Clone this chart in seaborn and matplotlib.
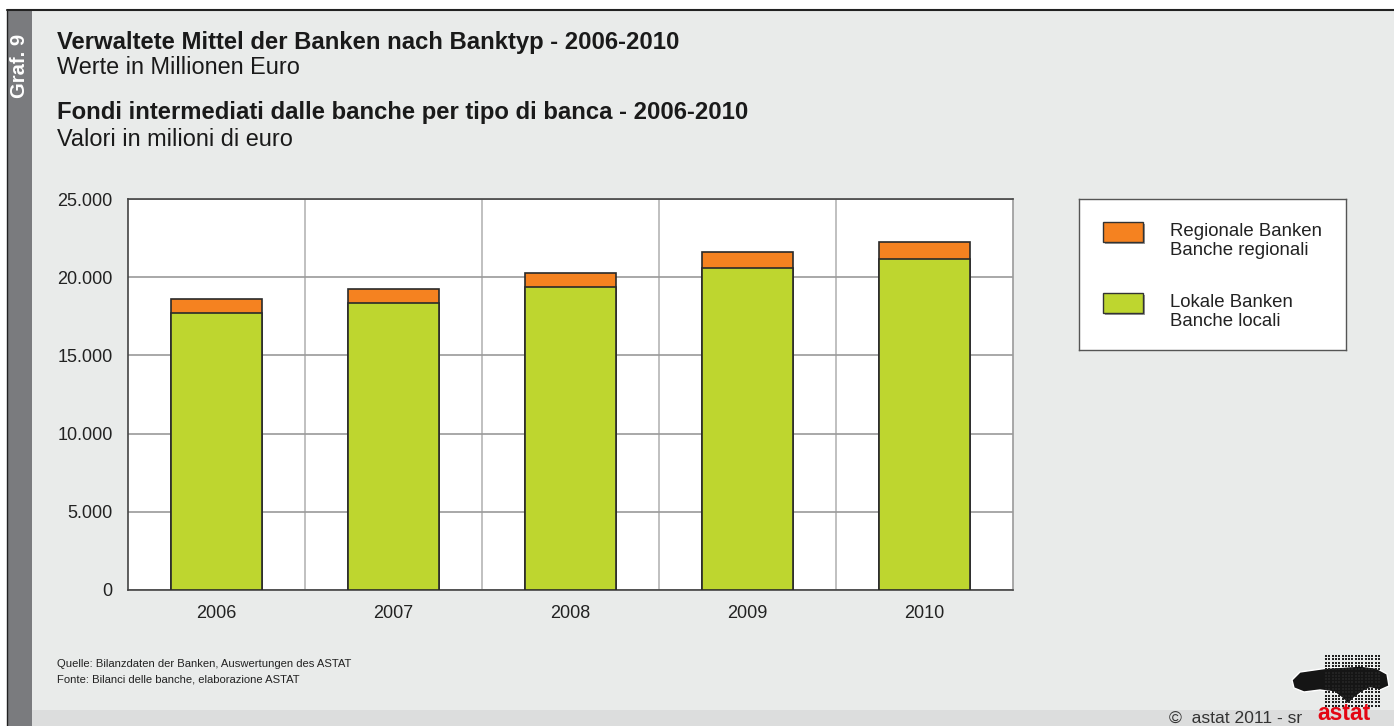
import numpy as np
import pandas as pd
import seaborn as sns
import matplotlib.pyplot as plt
from matplotlib.patches import Rectangle, Polygon
from matplotlib.ticker import FuncFormatter, FixedLocator

# values (million euro)
years = ["2006", "2007", "2008", "2009", "2010"]
lokale = [17710, 18350, 19350, 20570, 21150]
regionale = [880, 900, 920, 1020, 1080]
series_labels = ["Regionale Banken\nBanche regionali", "Lokale Banken\nBanche locali"]
y_ticks = [0, 5000, 10000, 15000, 20000, 25000]

ORANGE = "#F58220"
GREEN = "#BED62F"
BG = "#E9EBEA"

sns.set_theme(style="white")
plt.rcParams['font.family'] = ['Liberation Sans', 'DejaVu Sans']

df = pd.DataFrame({"Jahr": years, "Lokale": lokale, "Regionale": regionale})
df["Gesamt"] = df["Lokale"] + df["Regionale"]

W, H = 1394, 726
fig = plt.figure(figsize=(W / 100, H / 100), dpi=100)
fig.patch.set_facecolor("white")


def fx(px):
    return px / W


def fy(py):
    return 1 - py / H


# background panels
fig.patches.append(Rectangle((fx(7), 0), fx(W - 7), fy(10), transform=fig.transFigure,
                             facecolor=BG, edgecolor="none", zorder=-5))
fig.patches.append(Rectangle((fx(32), 0), fx(W - 32), fy(710), transform=fig.transFigure,
                             facecolor="#DCDDDD", edgecolor="none", zorder=-4))
fig.patches.append(Rectangle((fx(7), 0), fx(25), fy(10), transform=fig.transFigure,
                             facecolor="#7A7B7E", edgecolor="none", zorder=-4))
fig.lines.append(plt.Line2D([fx(7), 1], [fy(10), fy(10)], transform=fig.transFigure,
                            color="#222222", lw=1.5))
fig.lines.append(plt.Line2D([fx(7), fx(7)], [0, fy(10)], transform=fig.transFigure,
                            color="#222222", lw=1.0))

fig.text(fx(19.5), fy(66), "Graf. 9", rotation=90, color="white", fontsize=14.5,
         fontweight="bold", ha="center", va="center")

# titles
fig.text(fx(57), fy(42), "Verwaltete Mittel der Banken nach Banktyp - 2006-2010",
         fontsize=17.2, fontweight="bold", color="#1a1a1a", va="center")
fig.text(fx(57), fy(68), "Werte in Millionen Euro", fontsize=16.9, color="#1a1a1a", va="center")
fig.text(fx(57), fy(113), "Fondi intermediati dalle banche per tipo di banca - 2006-2010",
         fontsize=17.2, fontweight="bold", color="#1a1a1a", va="center")
fig.text(fx(57), fy(140), "Valori in milioni di euro", fontsize=16.9, color="#1a1a1a", va="center")

# main chart
ax = fig.add_axes([fx(128), fy(590), fx(1013 - 128), (590 - 199) / H])
ax.set_facecolor("white")
sns.barplot(data=df, x="Jahr", y="Gesamt", color=ORANGE, width=0.51, saturation=1,
            edgecolor="#2a2a2a", linewidth=1.2, ax=ax, zorder=3)
sns.barplot(data=df, x="Jahr", y="Lokale", color=GREEN, width=0.51, saturation=1,
            edgecolor="#2a2a2a", linewidth=1.2, ax=ax, zorder=4)
ax.set_xlim(-0.5, len(years) - 0.5)
ax.set_ylim(0, 25000)
ax.set_yticks(y_ticks)
ax.yaxis.set_major_formatter(FuncFormatter(lambda v, p: f"{int(v):,}".replace(",", ".")))
ax.xaxis.set_minor_locator(FixedLocator(np.arange(0.5, len(years) - 1, 1)))
ax.grid(axis="y", which="major", color="#9A9A9A", lw=1.2, zorder=1)
ax.grid(axis="x", which="minor", color="#B5B5B5", lw=1.2, zorder=1)
ax.set_axisbelow(True)
ax.set_xlabel("")
ax.set_ylabel("")
ax.tick_params(axis="both", which="both", length=0, labelsize=13, colors="#222222")
ax.tick_params(axis="x", pad=11)
ax.tick_params(axis="y", pad=11)
for s in ax.spines.values():
    s.set_color("#444444")
    s.set_linewidth(1.2)
ax.spines["right"].set_color("#9A9A9A")

# legend box
lax = fig.add_axes([fx(1079), fy(350), fx(1346 - 1079), (350 - 199) / H])
lax.set_xlim(0, 267)
lax.set_ylim(151, 0)
lax.set_xticks([])
lax.set_yticks([])
lax.set_facecolor("white")
for s in lax.spines.values():
    s.set_color("#555555")
    s.set_linewidth(1.0)
for i, (lab, col) in enumerate(zip(series_labels, [ORANGE, GREEN])):
    y0 = 23 + i * 71
    lax.add_patch(Rectangle((26, y0 + 2), 40, 20, facecolor="#9A9A9A", edgecolor="none"))
    lax.add_patch(Rectangle((24, y0), 40, 20, facecolor=col, edgecolor="#333333", lw=1.0))
    lax.text(91, y0 + 19, lab, fontsize=13.4, color="#222222", va="center", ha="left",
             linespacing=1.1)

# source notes
fig.text(fx(57), fy(664), "Quelle: Bilanzdaten der Banken, Auswertungen des ASTAT",
         fontsize=8.1, color="#222222", va="center")
fig.text(fx(57), fy(680), "Fonte: Bilanci delle banche, elaborazione ASTAT",
         fontsize=8.1, color="#222222", va="center")
fig.text(fx(1302), fy(718), "\u00a9  astat 2011 - sr", fontsize=12.6, color="#333333",
         ha="right", va="center")
fig.text(fx(1344), fy(714), "astat", fontsize=16.5, fontweight="bold", color="#E30613",
         ha="center", va="center")

# small logo approximation
logo = fig.add_axes([fx(1290), fy(706), fx(100), (706 - 654) / H])
logo.set_xlim(0, 100)
logo.set_ylim(52, 0)
logo.axis("off")
logo.add_patch(Polygon([(2, 26), (10, 18), (24, 16), (38, 14), (55, 13), (70, 12), (86, 14),
                        (97, 20), (99, 32), (90, 36), (80, 34), (72, 38), (64, 44), (58, 50),
                        (52, 44), (44, 38), (30, 36), (14, 38), (4, 34)], closed=True,
                       facecolor="#151515"))
gx, gy = np.meshgrid(np.arange(36, 92, 3.3), np.arange(2, 52, 3.3))
logo.scatter(gx.ravel(), gy.ravel(), s=1.4, color="#222222", marker="s", linewidths=0)

fig.savefig("out.png", dpi=100, facecolor=fig.get_facecolor())
